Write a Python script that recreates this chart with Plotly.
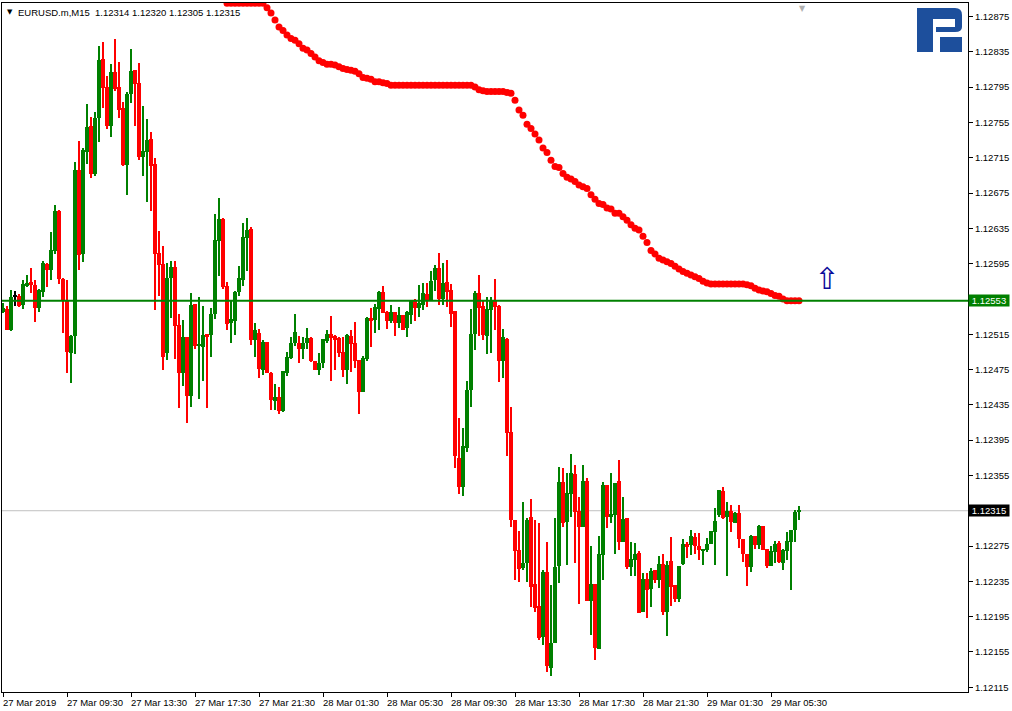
import plotly.graph_objects as go

# ---------------- data (EURUSD.m, M15) ----------------
opens = [1.12540,1.12544,1.12520,1.12558,1.12558,1.12548,1.12570,1.12574,1.12571,1.12545,
1.12563,1.12595,1.12588,1.12609,1.12655,1.12578,1.12554,1.12494,1.12513,1.12701,
1.12606,1.12721,1.12751,1.12697,1.12760,1.12827,1.12795,1.12751,1.12812,1.12795,
1.12771,1.12707,1.12787,1.12814,1.12800,1.12716,1.12721,1.12736,1.12708,1.12607,
1.12595,1.12494,1.12579,1.12591,1.12525,1.12471,1.12512,1.12445,1.12549,1.12502,
1.12501,1.12515,1.12514,1.12538,1.12621,1.12646,1.12570,1.12528,1.12530,1.12563,
1.12576,1.12624,1.12634,1.12508,1.12516,1.12474,1.12506,1.12471,1.12439,1.12444,
1.12428,1.12471,1.12488,1.12505,1.12505,1.12498,1.12505,1.12511,1.12485,1.12474,
1.12482,1.12507,1.12515,1.12513,1.12511,1.12495,1.12474,1.12513,1.12505,1.12486,
1.12450,1.12487,1.12533,1.12531,1.12544,1.12563,1.12540,1.12530,1.12540,1.12528,
1.12537,1.12522,1.12537,1.12553,1.12545,1.12548,1.12561,1.12554,1.12576,1.12590,
1.12555,1.12574,1.12565,1.12541,1.12375,1.12342,1.12386,1.12452,1.12515,1.12562,
1.12547,1.12513,1.12542,1.12554,1.12547,1.12485,1.12510,1.12404,1.12305,1.12271,
1.12250,1.12256,1.12308,1.12232,1.12207,1.12172,1.12246,1.12137,1.12165,1.12252,
1.12348,1.12302,1.12334,1.12357,1.12315,1.12297,1.12349,1.12213,1.12232,1.12158,
1.12265,1.12344,1.12308,1.12310,1.12349,1.12280,1.12307,1.12251,1.12259,1.12267,
1.12200,1.12238,1.12226,1.12248,1.12237,1.12255,1.12200,1.12258,1.12231,1.12215,
1.12255,1.12277,1.12276,1.12285,1.12275,1.12269,1.12271,1.12277,1.12291,1.12310,
1.12337,1.12308,1.12315,1.12301,1.12312,1.12283,1.12266,1.12251,1.12286,1.12276,
1.12298,1.12272,1.12252,1.12268,1.12278,1.12256,1.12269,1.12280,1.12293,1.12314]

highs = [1.12550,1.12547,1.12565,1.12564,1.12561,1.12576,1.12582,1.12590,1.12576,1.12566,
1.12598,1.12596,1.12631,1.12661,1.12656,1.12579,1.12576,1.12514,1.12710,1.12734,
1.12726,1.12776,1.12761,1.12767,1.12842,1.12846,1.12808,1.12821,1.12850,1.12823,
1.12778,1.12789,1.12838,1.12814,1.12822,1.12774,1.12759,1.12744,1.12715,1.12632,
1.12615,1.12596,1.12598,1.12598,1.12538,1.12531,1.12512,1.12562,1.12549,1.12557,
1.12547,1.12515,1.12545,1.12651,1.12669,1.12647,1.12574,1.12554,1.12564,1.12592,
1.12641,1.12647,1.12636,1.12528,1.12521,1.12508,1.12506,1.12472,1.12459,1.12455,
1.12473,1.12495,1.12512,1.12538,1.12513,1.12512,1.12522,1.12512,1.12485,1.12494,
1.12510,1.12520,1.12536,1.12514,1.12512,1.12512,1.12515,1.12520,1.12529,1.12486,
1.12490,1.12535,1.12545,1.12549,1.12564,1.12570,1.12541,1.12548,1.12540,1.12546,
1.12537,1.12541,1.12554,1.12555,1.12571,1.12573,1.12573,1.12587,1.12593,1.12607,
1.12596,1.12599,1.12572,1.12541,1.12420,1.12409,1.12462,1.12544,1.12564,1.12582,
1.12554,1.12557,1.12557,1.12578,1.12548,1.12521,1.12511,1.12433,1.12305,1.12292,
1.12325,1.12307,1.12328,1.12305,1.12301,1.12248,1.12280,1.12231,1.12307,1.12365,
1.12363,1.12358,1.12379,1.12367,1.12331,1.12367,1.12352,1.12275,1.12232,1.12286,
1.12348,1.12344,1.12358,1.12346,1.12373,1.12331,1.12307,1.12280,1.12278,1.12269,
1.12244,1.12244,1.12250,1.12248,1.12264,1.12266,1.12258,1.12285,1.12231,1.12252,
1.12283,1.12280,1.12293,1.12290,1.12290,1.12272,1.12284,1.12292,1.12318,1.12339,
1.12342,1.12325,1.12321,1.12314,1.12321,1.12283,1.12266,1.12288,1.12286,1.12299,
1.12298,1.12272,1.12275,1.12281,1.12281,1.12272,1.12291,1.12293,1.12316,1.12320]

lows = [1.12539,1.12520,1.12519,1.12547,1.12546,1.12544,1.12568,1.12562,1.12529,1.12540,
1.12557,1.12568,1.12576,1.12606,1.12572,1.12516,1.12471,1.12460,1.12493,1.12588,
1.12597,1.12708,1.12692,1.12694,1.12733,1.12771,1.12748,1.12739,1.12791,1.12760,
1.12706,1.12673,1.12777,1.12751,1.12712,1.12694,1.12665,1.12655,1.12542,1.12558,
1.12474,1.12486,1.12533,1.12487,1.12431,1.12456,1.12414,1.12433,1.12498,1.12442,
1.12462,1.12431,1.12489,1.12532,1.12581,1.12566,1.12520,1.12505,1.12514,1.12558,
1.12570,1.12587,1.12503,1.12489,1.12465,1.12469,1.12471,1.12429,1.12429,1.12425,
1.12427,1.12468,1.12487,1.12502,1.12482,1.12487,1.12498,1.12484,1.12474,1.12469,
1.12477,1.12505,1.12462,1.12474,1.12489,1.12467,1.12459,1.12472,1.12477,1.12425,
1.12450,1.12485,1.12501,1.12516,1.12520,1.12539,1.12521,1.12528,1.12513,1.12522,
1.12520,1.12512,1.12527,1.12530,1.12535,1.12542,1.12546,1.12553,1.12564,1.12548,
1.12548,1.12546,1.12523,1.12363,1.12334,1.12332,1.12382,1.12433,1.12497,1.12513,
1.12508,1.12493,1.12494,1.12520,1.12461,1.12465,1.12377,1.12297,1.12237,1.12234,
1.12248,1.12234,1.12206,1.12200,1.12169,1.12163,1.12132,1.12128,1.12165,1.12233,
1.12297,1.12254,1.12308,1.12256,1.12209,1.12297,1.12213,1.12174,1.12146,1.12158,
1.12237,1.12295,1.12301,1.12266,1.12271,1.12280,1.12249,1.12241,1.12241,1.12199,
1.12200,1.12193,1.12206,1.12233,1.12227,1.12197,1.12173,1.12207,1.12212,1.12212,
1.12254,1.12261,1.12265,1.12266,1.12259,1.12254,1.12268,1.12277,1.12254,1.12308,
1.12306,1.12241,1.12291,1.12301,1.12273,1.12257,1.12230,1.12246,1.12272,1.12272,
1.12271,1.12250,1.12252,1.12256,1.12256,1.12248,1.12259,1.12225,1.12280,1.12305]

closes = [1.12545,1.12520,1.12557,1.12558,1.12547,1.12572,1.12573,1.12571,1.12545,1.12565,
1.12596,1.12588,1.12610,1.12655,1.12578,1.12554,1.12495,1.12513,1.12701,1.12605,
1.12724,1.12750,1.12697,1.12760,1.12826,1.12794,1.12751,1.12812,1.12793,1.12769,
1.12707,1.12787,1.12813,1.12799,1.12716,1.12723,1.12735,1.12706,1.12606,1.12593,
1.12489,1.12579,1.12591,1.12524,1.12471,1.12512,1.12445,1.12548,1.12502,1.12504,
1.12514,1.12512,1.12538,1.12622,1.12646,1.12568,1.12527,1.12532,1.12563,1.12579,
1.12625,1.12633,1.12508,1.12520,1.12476,1.12506,1.12471,1.12440,1.12444,1.12428,
1.12473,1.12489,1.12505,1.12518,1.12498,1.12505,1.12511,1.12485,1.12474,1.12482,
1.12510,1.12515,1.12511,1.12508,1.12494,1.12474,1.12514,1.12504,1.12485,1.12450,
1.12488,1.12533,1.12531,1.12546,1.12563,1.12539,1.12530,1.12540,1.12528,1.12537,
1.12520,1.12540,1.12553,1.12545,1.12550,1.12562,1.12554,1.12575,1.12590,1.12555,
1.12573,1.12563,1.12538,1.12377,1.12342,1.12388,1.12452,1.12515,1.12562,1.12545,
1.12514,1.12544,1.12554,1.12546,1.12485,1.12512,1.12403,1.12305,1.12269,1.12249,
1.12256,1.12305,1.12229,1.12205,1.12171,1.12246,1.12139,1.12165,1.12251,1.12348,
1.12301,1.12335,1.12358,1.12314,1.12297,1.12349,1.12213,1.12232,1.12160,1.12266,
1.12344,1.12308,1.12311,1.12346,1.12280,1.12306,1.12251,1.12260,1.12266,1.12199,
1.12238,1.12225,1.12247,1.12237,1.12255,1.12200,1.12254,1.12229,1.12215,1.12252,
1.12277,1.12275,1.12286,1.12275,1.12271,1.12272,1.12277,1.12292,1.12303,1.12339,
1.12307,1.12315,1.12302,1.12312,1.12283,1.12266,1.12251,1.12286,1.12276,1.12298,
1.12271,1.12252,1.12269,1.12277,1.12257,1.12271,1.12281,1.12293,1.12314,1.12315]

# indicator dots (hidden above the chart for the first 56 bars)
signal_dots = [None] * 56 + [
1.12890,1.12890,1.12890,1.12890,1.12890,1.12890,1.12890,1.12890,1.12890,1.12890,
1.12885,1.12879,1.12871,1.12863,1.12859,1.12854,1.12850,1.12848,1.12844,1.12839,
1.12837,1.12833,1.12829,1.12825,1.12823,1.12821,1.12821,1.12820,1.12818,1.12816,
1.12815,1.12814,1.12813,1.12810,1.12806,1.12805,1.12804,1.12801,1.12801,1.12800,
1.12799,1.12797,1.12797,1.12797,1.12797,1.12797,1.12797,1.12797,1.12797,1.12797,
1.12797,1.12797,1.12797,1.12797,1.12797,1.12797,1.12797,1.12797,1.12797,1.12797,
1.12797,1.12797,1.12795,1.12792,1.12791,1.12790,1.12790,1.12790,1.12790,1.12790,
1.12789,1.12788,1.12780,1.12769,1.12763,1.12753,1.12748,1.12742,1.12735,1.12726,
1.12721,1.12712,1.12705,1.12704,1.12697,1.12693,1.12691,1.12688,1.12684,1.12682,
1.12680,1.12673,1.12668,1.12663,1.12662,1.12658,1.12657,1.12652,1.12652,1.12648,
1.12644,1.12639,1.12635,1.12633,1.12626,1.12619,1.12610,1.12606,1.12601,1.12599,
1.12597,1.12595,1.12592,1.12589,1.12586,1.12584,1.12582,1.12580,1.12578,1.12575,
1.12573,1.12572,1.12572,1.12572,1.12572,1.12572,1.12572,1.12572,1.12572,1.12572,
1.12571,1.12570,1.12567,1.12565,1.12564,1.12563,1.12561,1.12559,1.12558,1.12555,
1.12553,1.12553,1.12553,1.12553]

x_tick_idx = [0, 16, 32, 48, 64, 80, 96, 112, 128, 144, 160, 176, 192]
x_tick_text = ["27 Mar 2019", "27 Mar 09:30", "27 Mar 13:30", "27 Mar 17:30",
               "27 Mar 21:30", "28 Mar 01:30", "28 Mar 05:30", "28 Mar 09:30",
               "28 Mar 13:30", "28 Mar 17:30", "28 Mar 21:30", "29 Mar 01:30",
               "29 Mar 05:30"]
y_ticks = [1.12875, 1.12835, 1.12795, 1.12755, 1.12715, 1.12675, 1.12635, 1.12595,
           1.12555, 1.12515, 1.12475, 1.12435, 1.12395, 1.12355, 1.12315, 1.12275,
           1.12235, 1.12195, 1.12155, 1.12115]
level_price = 1.12553
bid_price = 1.12315
arrow_idx = [206]
arrow_price = [1.12575]
header_text = "EURUSD.m,M15  1.12314 1.12320 1.12305 1.12315"

# ---------------- figure ----------------
FONT = "Liberation Sans"
GREEN = "#008000"
RED = "#FF0000"

idx = list(range(len(opens)))

def colour(o, c):
    if c > o:
        return GREEN
    if c < o:
        return RED
    return "black"

cols = [colour(o, c) for o, c in zip(opens, closes)]
wick_base = lows
wick_len = [h - l for h, l in zip(highs, lows)]
body_base = [min(o, c) for o, c in zip(opens, closes)]
body_len = [max(abs(c - o), 0.000012) for o, c in zip(opens, closes)]

fig = go.Figure()
fig.add_trace(go.Bar(x=idx, y=wick_len, base=wick_base, width=0.25,
                     marker=dict(color=cols, line=dict(width=0)), hoverinfo="skip"))
fig.add_trace(go.Bar(x=idx, y=body_len, base=body_base, width=0.8,
                     marker=dict(color=cols, line=dict(width=0)), hoverinfo="skip"))

fig.add_trace(go.Scatter(
    x=idx, y=signal_dots, mode="markers",
    marker=dict(color=RED, size=7, line=dict(width=0)),
    cliponaxis=True, hoverinfo="skip"))

fig.add_trace(go.Scatter(
    x=arrow_idx, y=arrow_price, mode="text", text=["⇧"],
    textfont=dict(family="DejaVu Sans", size=30, color="#0A0A9A"),
    cliponaxis=False, hoverinfo="skip"))

shapes = [
    dict(type="line", xref="paper", x0=0, x1=1, yref="y", y0=bid_price, y1=bid_price,
         line=dict(color="#C0C0C0", width=1), layer="below"),
    dict(type="line", xref="paper", x0=0, x1=1, yref="y", y0=level_price, y1=level_price,
         line=dict(color=GREEN, width=2), layer="above"),
]

# logo mark in paper coordinates derived from pixel positions
PW, PH, L0, T0 = 966.0, 689.0, 2.0, 3.0
def px(xp):
    return (xp - L0) / PW
def py(yp):
    return (T0 + PH - yp) / PH
logo_path = ("M {a},{b} L {c},{b} Q {d},{b} {d},{e} L {d},{f} Q {d},{g} {c},{g} "
             "L {h},{g} L {h},{f2} L {c2},{f2} L {c2},{e2} L {i},{e2} L {i},{j} L {a},{j} Z").format(
    a=px(917), b=py(8), c=px(955), d=px(962), e=py(15), f=py(27), g=py(32),
    h=px(936), f2=py(27), c2=px(955), e2=py(19), i=px(933), j=py(52))
shapes.append(dict(type="path", xref="paper", yref="paper", path=logo_path,
                   fillcolor="#1D4F9C", line=dict(width=0), layer="above"))
shapes.append(dict(type="rect", xref="paper", yref="paper", x0=px(940), x1=px(962),
                   y0=py(52), y1=py(37), fillcolor="#1D4F9C", line=dict(width=0), layer="above"))

annotations = []
for i, t in zip(x_tick_idx, x_tick_text):
    annotations.append(dict(x=i, xref="x", y=0, yref="paper", text=t, showarrow=False,
                            xanchor="left", yanchor="top", xshift=-2, yshift=-3,
                            font=dict(family=FONT, size=9.5, color="black")))
for price, bg in ((level_price, GREEN), (bid_price, "black")):
    annotations.append(dict(x=1, xref="paper", y=price, yref="y", text=f"{price:.5f}",
                            showarrow=False, xanchor="left", xshift=0, bgcolor=bg,
                            borderpad=0, width=40, height=11, align="center",
                            font=dict(family=FONT, size=9.5, color="white")))
annotations.append(dict(x=0, xref="paper", y=1, yref="paper", text="▼", showarrow=False,
                        xanchor="left", yanchor="top", xshift=3, yshift=-3,
                        font=dict(family="DejaVu Sans", size=7, color="black")))
annotations.append(dict(x=0, xref="paper", y=1, yref="paper", text=header_text, showarrow=False,
                        xanchor="left", yanchor="top", xshift=14, yshift=-2,
                        font=dict(family=FONT, size=9.5, color="black")))
annotations.append(dict(x=px(802), xref="paper", y=1, yref="paper", text="▼", showarrow=False,
                        xanchor="center", yanchor="top", yshift=1,
                        font=dict(family="DejaVu Sans", size=8, color="#B0B0B0")))

# tick labels hidden behind the price boxes in the reference
def covered(v):
    return any(abs(v - p) < 0.00003 for p in (level_price, bid_price))
y_ticktext = ["" if covered(v) else f"{v:.5f}" for v in y_ticks]

fig.update_layout(
    width=1012, height=711,
    margin=dict(l=2, r=44, t=3, b=19),
    plot_bgcolor="white", paper_bgcolor="white",
    showlegend=False, barmode="overlay", bargap=0,
    shapes=shapes, annotations=annotations,
    xaxis=dict(range=[-0.25, 241.25],
               showgrid=False, zeroline=False, showline=True, mirror=True,
               linecolor="black", linewidth=1, tickvals=x_tick_idx,
               ticks="outside", ticklen=4, tickcolor="black", showticklabels=False),
    yaxis=dict(range=[1.121096, 1.128903], side="right", tickvals=y_ticks,
               ticktext=y_ticktext, ticks="outside", ticklen=4,
               tickcolor="black", showgrid=False, zeroline=False, showline=True,
               mirror=True, linecolor="black", linewidth=1,
               tickfont=dict(family=FONT, size=9.5, color="black")),
)

fig.write_html("out.html", config={"displayModeBar": False},
               post_script="document.body.style.margin='0';document.body.style.overflow='hidden';")
